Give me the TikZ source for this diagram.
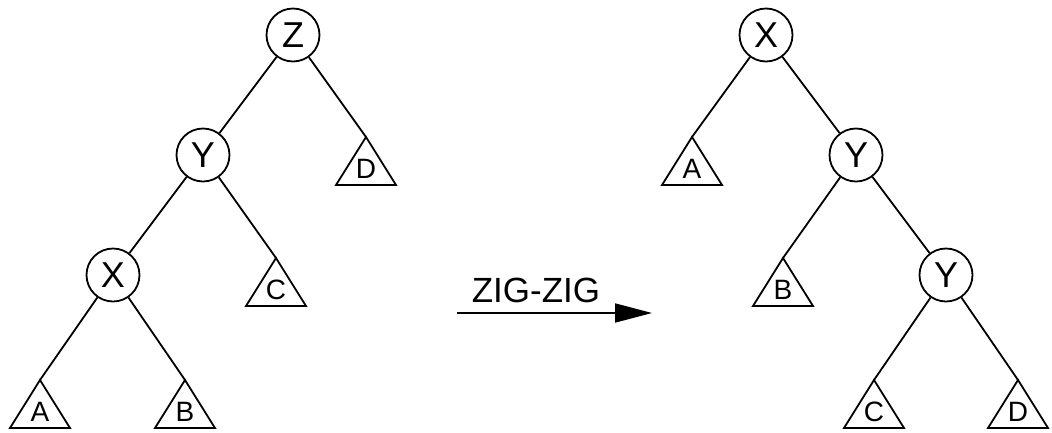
\documentclass[tikz,border=0pt]{standalone}
\usepackage{fontspec}
\setmainfont{Liberation Sans}
\usetikzlibrary{arrows.meta}
\tikzset{
  lw/.style={line width=1.8pt},
  keynode/.style={circle, draw, lw, minimum size=53pt, inner sep=0pt, font=\fontsize{36}{36}\selectfont},
  edge/.style={lw},
  tri/.style={lw, line join=miter},
  trilabel/.style={inner sep=0pt, font=\fontsize{28}{28}\selectfont},
  arrowlabel/.style={inner sep=0pt, font=\fontsize{35}{35}\selectfont},
}
\newcommand{\subtri}[4]{% name, x, y (apex), label
  \coordinate (#1) at (#2,#3);
  \draw[tri] (#1) -- ++(-30,48) -- ++(60,0) -- cycle;
  \node[trilabel] (#1l) at ([yshift=-32pt]#1) {#4};
}
\begin{document}
\begin{tikzpicture}[x=1pt,y=-1pt]
\useasboundingbox (0,0) rectangle (1052,432);
% left tree
\node[keynode] (lZ) at (293,35) {Z};
\node[keynode] (lY) at (203,155) {Y};
\node[keynode] (lX) at (113,275) {X};
\subtri{lD}{366}{137}{D}
\subtri{lC}{276}{258}{C}
\subtri{lA}{40}{380}{A}
\subtri{lB}{185}{380}{B}
\draw[edge] (lZ) -- (lY);
\draw[edge] (lZ) -- (lD);
\draw[edge] (lY) -- (lX);
\draw[edge] (lY) -- (lC);
\draw[edge] (lX) -- (lA);
\draw[edge] (lX) -- (lB);
% arrow
\coordinate (as) at (457,313);
\coordinate (ae) at (652,313);
\draw[lw, -{Triangle[length=37pt,width=19pt]}] (as) -- (ae);
\node[arrowlabel] (lab) at (536,290) {ZIG-ZIG};
% right tree
\node[keynode] (rX) at (766,35) {X};
\node[keynode] (rY) at (856,155) {Y};
\node[keynode] (rY2) at (946,275) {Y};
\subtri{rA}{692}{137}{A}
\subtri{rB}{783}{258}{B}
\subtri{rC}{874}{380}{C}
\subtri{rD}{1018}{380}{D}
\draw[edge] (rX) -- (rA);
\draw[edge] (rX) -- (rY);
\draw[edge] (rY) -- (rB);
\draw[edge] (rY) -- (rY2);
\draw[edge] (rY2) -- (rC);
\draw[edge] (rY2) -- (rD);
\end{tikzpicture}
\end{document}
